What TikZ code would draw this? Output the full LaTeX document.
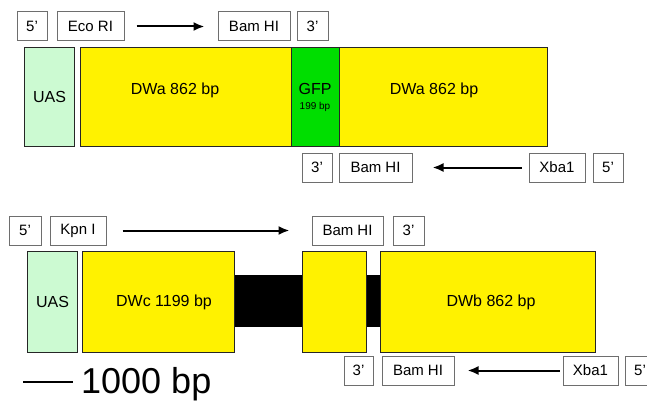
\documentclass[tikz,border=0pt]{standalone}
\usepackage{fontspec}
\setmainfont{Liberation Sans}
\usetikzlibrary{arrows.meta}
\definecolor{uasgreen}{RGB}{204,250,210}
\definecolor{gfpgreen}{RGB}{0,222,0}
\definecolor{lblgray}{RGB}{110,110,110}
\begin{document}
\begin{tikzpicture}[x=1pt,y=-1pt,
  lbl/.style={draw=lblgray, line width=1pt, fill=white, inner sep=0pt, minimum height=29pt,
    font=\fontsize{15}{15}\selectfont},
  seg/.style={draw=black!85, line width=1.2pt, inner sep=0pt, anchor=north west,
    font=\fontsize{16}{16}\selectfont},
  bar/.style={fill=black, draw=black, inner sep=0pt, anchor=north west},
  dirarrow/.style={line width=2pt, -{Latex[length=11pt,width=9pt]}}
]
\useasboundingbox (0,0) rectangle (647,401);
\fill[white] (0,0) rectangle (647,401);

% ---------- upper construct ----------
\node[lbl, minimum width=30pt] (p5a) at (32,26.5) {5'};
\node[lbl, minimum width=67pt] (eco) at (90.5,26.5) {Eco RI};
\node[lbl, minimum width=72pt] (bamA) at (254,26.5) {Bam HI};
\node[lbl, minimum width=31pt] (p3a) at (312.5,26.5) {3'};
\draw[dirarrow, shorten <=12pt, shorten >=13pt] (eco.east) -- (bamA.west);

\node[seg, fill=uasgreen, minimum width=50pt, minimum height=99pt] (uasA) at (24,47) {UAS};
\node[seg, fill=yellow, minimum width=211pt, minimum height=99pt] (dwa1) at (80,47) {};
\node[seg, fill=gfpgreen, minimum width=48pt, minimum height=99pt] (gfp) at (291,47) {};
\node[seg, fill=yellow, minimum width=208pt, minimum height=99pt] (dwa2) at (339,47) {};
\node[font=\fontsize{16}{16}\selectfont] (dwa1t) at (175,90) {DWa 862 bp};
\node[font=\fontsize{16}{16}\selectfont] (gfpt) at (315,89) {GFP};
\node[font=\fontsize{10}{10}\selectfont] (gfpbp) at (315,107) {199 bp};
\node[font=\fontsize{16}{16}\selectfont] (dwa2t) at (434,90) {DWa 862 bp};

\node[lbl, minimum width=30pt] (p3b) at (317,167.5) {3'};
\node[lbl, minimum width=73pt] (bamB) at (375.5,167.5) {Bam HI};
\node[lbl, minimum width=56pt] (xbaA) at (557,167.5) {Xba1};
\node[lbl, minimum width=30pt] (p5b) at (608,167.5) {5'};
\draw[dirarrow, shorten <=7pt, shorten >=20pt] (xbaA.west) -- (bamB.east);

% ---------- lower construct ----------
\node[lbl, minimum width=32pt] (p5c) at (25,230.5) {5'};
\node[lbl, minimum width=56pt] (kpn) at (78,230.5) {Kpn I};
\node[lbl, minimum width=71pt] (bamC) at (347.5,230.5) {Bam HI};
\node[lbl, minimum width=31pt] (p3c) at (408.5,230.5) {3'};
\draw[dirarrow, shorten <=16pt, shorten >=22pt] (kpn.east) -- (bamC.west);

\node[bar, minimum width=68pt, minimum height=51pt] (blk1) at (234,275) {};
\node[bar, minimum width=14pt, minimum height=51pt] (blk2) at (366,275) {};
\node[seg, fill=uasgreen, minimum width=50pt, minimum height=101pt] (uasB) at (27,251) {UAS};
\node[seg, fill=yellow, minimum width=152pt, minimum height=101pt] (dwc) at (82,251) {};
\node[seg, fill=yellow, minimum width=64pt, minimum height=101pt] (ysm) at (302,251) {};
\node[seg, fill=yellow, minimum width=215pt, minimum height=101pt] (dwb) at (380,251) {};
\node[font=\fontsize{16}{16}\selectfont] (dwct) at (164,302) {DWc 1199 bp};
\node[font=\fontsize{16}{16}\selectfont] (dwbt) at (491,302) {DWb 862 bp};

\node[lbl, minimum width=29pt] (p3d) at (358.5,370.5) {3'};
\node[lbl, minimum width=72pt] (bamD) at (418,370.5) {Bam HI};
\node[lbl, minimum width=55pt] (xbaB) at (590.5,370.5) {Xba1};
\node[lbl, minimum width=30pt] (p5d) at (640,370.5) {5'};
\draw[dirarrow, shorten <=3pt, shorten >=13pt] (xbaB.west) -- (bamD.east);

% ---------- scale bar ----------
\coordinate (sbL) at (23,382);
\coordinate (sbR) at (73,382);
\draw[line width=2.4pt] (sbL) -- (sbR);
\node[anchor=base west, inner sep=0pt, font=\fontsize{36}{36}\selectfont] (scale) at (81,393) {1000 bp};
\end{tikzpicture}
\end{document}
